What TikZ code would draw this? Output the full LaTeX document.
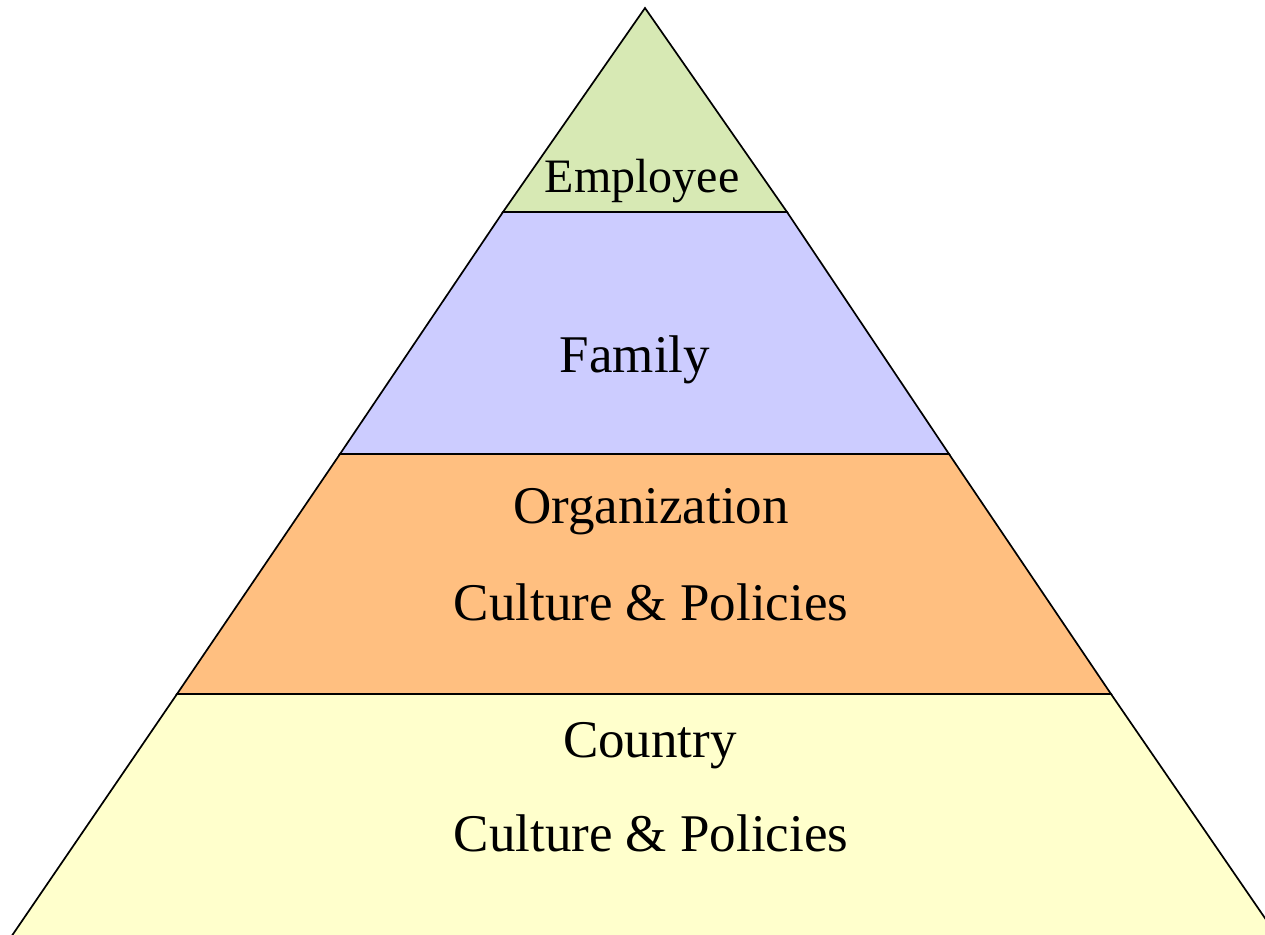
\documentclass[tikz,border=0pt]{standalone}
\usepackage{fontspec}
\setmainfont{Liberation Serif}
\definecolor{empfill}{RGB}{215,233,180}
\definecolor{famfill}{RGB}{204,204,255}
\definecolor{orgfill}{RGB}{255,191,128}
\definecolor{ctyfill}{RGB}{255,255,204}
\tikzset{
  layer/.style={draw=black, line width=1.7pt, line join=miter},
  big/.style={anchor=base, inner sep=0pt, font=\fontsize{53}{60}\selectfont},
  small/.style={anchor=base, inner sep=0pt, font=\fontsize{48}{56}\selectfont}
}
\begin{document}
\begin{tikzpicture}[x=1pt,y=-1pt]
\useasboundingbox (0,0) rectangle (1265,934);
\clip (0,0) rectangle (1265,934);
\coordinate (apex) at (645,8);
\coordinate (el) at (503,212);
\coordinate (er) at (787,212);
\coordinate (fl) at (340,454);
\coordinate (fr) at (949,454);
\coordinate (ol) at (177,694);
\coordinate (or) at (1111,694);
\coordinate (cl) at (9,940);
\coordinate (cr) at (1280,940);
\filldraw[layer, fill=ctyfill] (ol) -- (or) -- (cr) -- (cl) -- cycle;
\filldraw[layer, fill=orgfill] (fl) -- (fr) -- (or) -- (ol) -- cycle;
\filldraw[layer, fill=famfill] (el) -- (er) -- (fr) -- (fl) -- cycle;
\filldraw[layer, fill=empfill] (apex) -- (er) -- (el) -- cycle;
\node[small] (emp) at (642,192) {Employee};
\node[big] (fam) at (635,372) {Family};
\node[big] (org) at (651,523) {Organization};
\node[big] (orgcp) at (651,620) {Culture \& Policies};
\node[big] (cty) at (650,757) {Country};
\node[big] (ctycp) at (651,851) {Culture \& Policies};
\end{tikzpicture}
\end{document}
